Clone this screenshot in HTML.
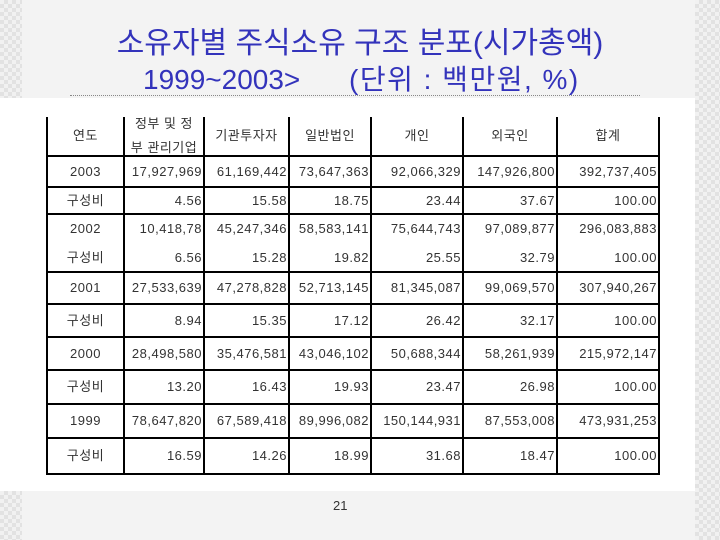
<!DOCTYPE html>
<html><head><meta charset="utf-8">
<style>
body{margin:0;width:720px;height:540px;overflow:hidden;background:#f3f3f3;position:relative;font-family:"Liberation Sans","Noto Sans CJK KR",sans-serif}
.abs{position:absolute}
.checker{background-image:linear-gradient(45deg,#e2e2e2 25%,transparent 25%,transparent 75%,#e2e2e2 75%),linear-gradient(45deg,#e2e2e2 25%,transparent 25%,transparent 75%,#e2e2e2 75%);background-size:8px 8px;background-position:0 0,4px 4px;background-color:#f1f1f1}
.t{color:#3333bb;font-size:28px;white-space:nowrap;line-height:32px;height:32px}
.c{position:absolute;font-size:13px;color:#333;white-space:nowrap;letter-spacing:0.5px;line-height:16px}
.hl{position:absolute;height:2px;background:#000}
.vl{position:absolute;width:2px;background:#000}
</style></head><body>
<div class="abs checker" style="left:0;top:0;width:22px;height:98px"></div>
<div class="abs checker" style="left:0;top:491px;width:22px;height:49px"></div>
<div class="abs checker" style="left:695px;top:0;width:25px;height:540px"></div>
<div class="abs" style="left:0;top:98px;width:695px;height:393px;background:#fff"></div>
<div class="abs t" style="left:0;width:720px;text-align:center;top:28px;font-size:30px">소유자별 주식소유 구조 분포(시가총액)</div>
<div class="abs t" style="left:143px;top:64px">1999~2003&gt;</div>
<div class="abs t" style="left:349px;top:64px;letter-spacing:1.5px">(단위 : 백만원, %)</div>
<div class="abs" style="left:70px;top:95px;width:570px;border-top:1px dotted #888"></div>
<div class="abs" style="left:333px;top:498px;font-size:13px;color:#333">21</div>
<div id="tbl"></div>
<script>
const headers=["연도","정부 및 정|부 관리기업","기관투자자","일반법인","개인","외국인","합계"];
const years=["2003","구성비","2002","구성비","2001","구성비","2000","구성비","1999","구성비"];
const govt=["17,927,969","4.56","10,418,78","6.56","27,533,639","8.94","28,498,580","13.20","78,647,820","16.59"];
const inst=["61,169,442","15.58","45,247,346","15.28","47,278,828","15.35","35,476,581","16.43","67,589,418","14.26"];
const corp=["73,647,363","18.75","58,583,141","19.82","52,713,145","17.12","43,046,102","19.93","89,996,082","18.99"];
const indiv=["92,066,329","23.44","75,644,743","25.55","81,345,087","26.42","50,688,344","23.47","150,144,931","31.68"];
const foreign=["147,926,800","37.67","97,089,877","32.79","99,069,570","32.17","58,261,939","26.98","87,553,008","18.47"];
const total=["392,737,405","100.00","296,083,883","100.00","307,940,267","100.00","215,972,147","100.00","473,931,253","100.00"];
const cols=[47,124,204,289,371,463,557,659];
const rowTop=[117,156,187,214,243,272,304,337,370,404,438,474];
const hLines=[156,187,214,272,304,337,370,404,438,474];
const tbl=document.getElementById('tbl');
function add(cls,style,text){const d=document.createElement('div');d.className=cls;d.style.cssText=style;if(text!==undefined)d.textContent=text;tbl.appendChild(d);return d;}
cols.forEach(x=>{const v=add('vl','left:'+(x-1)+'px;top:117px;height:358px');

});
hLines.forEach(y=>{const h=add('hl','left:47px;top:'+(y-1)+'px;width:613px');

});
headers.forEach((h,i)=>{const parts=h.split('|');const cy=136;
parts.forEach((p,j)=>{const d=add('c','left:'+cols[i]+'px;width:'+(cols[i+1]-cols[i])+'px;text-align:center;top:'+(cy-8+(parts.length>1?(j*24-12):0))+'px;font-size:13px',p);

});});
const series=[years,govt,inst,corp,indiv,foreign,total];
for(let r=0;r<10;r++){const cy=(rowTop[r+1]+rowTop[r+2])/2;
series.forEach((s,i)=>{const left=i===0;const st='left:'+(cols[i]+2)+'px;width:'+(cols[i+1]-cols[i]-4)+'px;text-align:'+(left?'center':'right')+';top:'+(cy-8)+'px';
const d=add('c',st,s[r]);

});}
</script>
</body></html>
